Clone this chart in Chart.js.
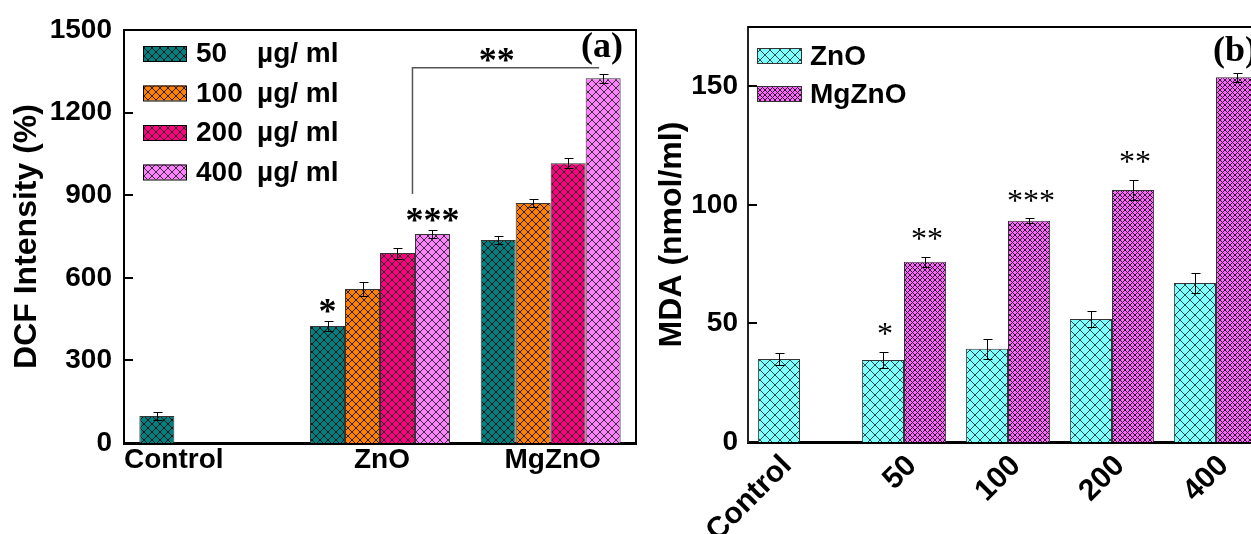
<!DOCTYPE html>
<html>
<head>
<meta charset="utf-8">
<script src="https://cdn.jsdelivr.net/npm/chart.js@4.4.1/dist/chart.umd.min.js"></script>
<style>
  html, body { margin: 0; padding: 0; background: #fff; overflow: hidden; }
  #wrap { position: relative; width: 1251px; height: 534px; overflow: hidden; background: #fff; }
  #dcf { position: absolute; left: 0; top: 0; width: 640px; height: 534px; }
  #mda { position: absolute; left: 640px; top: 0; width: 660px; height: 534px; }
</style>
</head>
<body>
<div id="wrap">
  <canvas id="dcf" width="640" height="534"></canvas>
  <canvas id="mda" width="660" height="534"></canvas>
</div>
<script>
const SANS = "'Liberation Sans', Arial, sans-serif";
const SERIF = "'Liberation Serif', 'Times New Roman', serif";

// ---- panel (a): DCF intensity ----
const dcfCategories = ['Control', 'ZnO', 'MgZnO'];
const dcfDoses = ['50', '100', '200', '400'];
const doseUnit = 'µg/ ml';
const dcf50 = [98, 425, 737];
const dcf100 = [null, 559, 872];
const dcf200 = [null, 690, 1016];
const dcf400 = [null, 759, 1325];
const dcf50Err = [14, 18, 15];
const dcf100Err = [null, 25, 16];
const dcf200Err = [null, 20, 18];
const dcf400Err = [null, 15, 16];
const dcfTicks = [0, 300, 600, 900, 1200, 1500];
// [dataset, category, mark]
const dcfMarks = [[0, 1, '*'], [3, 1, '***']];
const dcfBracketMark = '**';

// ---- panel (b): MDA ----
const mdaCategories = ['Control', '50', '100', '200', '400'];
const mdaSeries = ['ZnO', 'MgZnO'];
const mdaZnO = [35, 34.6, 39.3, 51.9, 67.1];
const mdaMgZnO = [null, 76, 93.3, 106.3, 153.8];
const mdaZnOErr = [2.6, 3.5, 4.2, 3.4, 4.2];
const mdaMgZnOErr = [null, 2, 1, 4.3, 2];
const mdaTicks = [0, 50, 100, 150];
const mdaMarks = [[0, 1, '*'], [1, 1, '**'], [1, 2, '***'], [1, 3, '**']];

function hatch(base, line, size, width) {
  const c = document.createElement('canvas');
  c.width = size; c.height = size;
  const g = c.getContext('2d');
  g.fillStyle = base;
  g.fillRect(0, 0, size, size);
  g.strokeStyle = line;
  g.lineWidth = width;
  g.beginPath();
  g.moveTo(0, 0); g.lineTo(size, size);
  g.moveTo(size, 0); g.lineTo(0, size);
  g.stroke();
  return g.createPattern(c, 'repeat');
}

const dcfFills = [
  hatch('#008080', '#111', 8, 1),
  hatch('#ff8000', '#222', 8, 1),
  hatch('#ff0080', '#222', 8, 1),
  hatch('#ff80ff', '#333', 8, 1)
];
const mdaFills = [
  hatch('#80ffff', '#2a4d4d', 10, 1),
  hatch('#ff66ff', '#2a1a2a', 5, 1)
];

function errTop(chart, errs, di, i) {
  const v = chart.data.datasets[di].data[i];
  return chart.scales.y.getPixelForValue(v + (errs[di][i] || 0));
}

function errorBars(errs) {
  return {
    id: 'errorBars',
    afterDatasetsDraw(chart) {
      const ctx = chart.ctx, y = chart.scales.y;
      ctx.save();
      ctx.strokeStyle = '#000';
      ctx.lineWidth = 1;
      chart.data.datasets.forEach((ds, di) => {
        const meta = chart.getDatasetMeta(di);
        ds.data.forEach((v, i) => {
          const e = errs[di][i];
          if (v == null || e == null) return;
          const x = Math.round(meta.data[i].x) + 0.5;
          const t = Math.round(y.getPixelForValue(v + e)) + 0.5;
          const b = Math.round(y.getPixelForValue(v - e)) + 0.5;
          ctx.beginPath();
          ctx.moveTo(x, t); ctx.lineTo(x, b);
          ctx.moveTo(x - 4, t); ctx.lineTo(x + 5, t);
          ctx.moveTo(x - 4, b); ctx.lineTo(x + 5, b);
          ctx.stroke();
        });
      });
      ctx.restore();
    }
  };
}

function frameAndTicks(ctx, area, y, ticks, rightBorder) {
  ctx.save();
  ctx.strokeStyle = '#000';
  ctx.lineWidth = 2;
  ctx.beginPath();
  ctx.moveTo(area.left, area.top);
  ctx.lineTo(area.right, area.top);
  if (rightBorder) ctx.lineTo(area.right, area.bottom);
  ticks.forEach(t => {
    if (t === 0) return;
    const py = Math.round(y.getPixelForValue(t));
    ctx.moveTo(area.left, py);
    ctx.lineTo(area.left + 9, py);
  });
  ctx.stroke();
  ctx.restore();
}

function starText(ctx, text, x, cy, font, size) {
  ctx.font = font;
  ctx.textAlign = 'center';
  ctx.textBaseline = 'alphabetic';
  ctx.fillText(text, x, cy + size * 0.48);
}

Chart.defaults.font.family = SANS;
Chart.defaults.color = '#000';

// ---------- chart (a) ----------
const dcfErrs = [dcf50Err, dcf100Err, dcf200Err, dcf400Err];
const dcfDecor = {
  id: 'dcfDecor',
  afterDraw(chart) {
    const ctx = chart.ctx, area = chart.chartArea, x = chart.scales.x, y = chart.scales.y;
    frameAndTicks(ctx, area, y, dcfTicks, true);
    ctx.save();
    ctx.fillStyle = '#000';

    // category labels
    ctx.font = 'bold 28px ' + SANS;
    ctx.textBaseline = 'alphabetic';
    dcfCategories.forEach((c, i) => {
      if (dcf100[i] == null) {
        ctx.textAlign = 'left';
        ctx.fillText(c, area.left, area.bottom + 25);
      } else {
        ctx.textAlign = 'center';
        ctx.fillText(c, x.getPixelForValue(i) + 2, area.bottom + 25);
      }
    });

    // legend
    dcfDoses.forEach((d, i) => {
      const by = 46 + i * 39.5;
      ctx.fillStyle = dcfFills[i];
      ctx.fillRect(143, by, 43, 15);
      ctx.strokeStyle = '#000';
      ctx.lineWidth = 1;
      ctx.strokeRect(143.5, by + 0.5, 43, 15);
      ctx.fillStyle = '#000';
      ctx.font = 'bold 28px ' + SANS;
      ctx.textAlign = 'left';
      ctx.fillText(d, 196, by + 16);
      ctx.fillText(doseUnit, 257, by + 16);
    });

    // significance marks
    dcfMarks.forEach(([di, i, m]) => {
      const bx = chart.getDatasetMeta(di).data[i].x;
      starText(ctx, m, bx, errTop(chart, dcfErrs, di, i) - 15, 'bold 36px ' + SERIF, 36);
    });

    // bracket ZnO 400 -> MgZnO 400
    const x1 = chart.getDatasetMeta(3).data[1].x - 20;
    const x2 = chart.getDatasetMeta(3).data[2].x - 4;
    const yLow = errTop(chart, dcfErrs, 3, 1) - 36;
    const yTop = errTop(chart, dcfErrs, 3, 2) - 6;
    ctx.strokeStyle = '#555';
    ctx.lineWidth = 1.5;
    ctx.beginPath();
    ctx.moveTo(x1, yLow);
    ctx.lineTo(x1, yTop);
    ctx.lineTo(x2, yTop);
    ctx.stroke();
    starText(ctx, dcfBracketMark, (x1 + x2) / 2 - 9, yTop - 13, 'bold 36px ' + SERIF, 36);

    // panel letter
    ctx.font = 'bold 36px ' + SERIF;
    ctx.textAlign = 'center';
    ctx.textBaseline = 'middle';
    ctx.fillText('(a)', 602, 48);
    ctx.restore();
  }
};

new Chart(document.getElementById('dcf'), {
  type: 'bar',
  data: {
    labels: dcfCategories,
    datasets: [dcf50, dcf100, dcf200, dcf400].map((d, i) => ({
      label: dcfDoses[i] + ' ' + doseUnit,
      data: d,
      backgroundColor: dcfFills[i],
      borderColor: '#333',
      borderWidth: 1,
      categoryPercentage: 0.82,
      barPercentage: 1
    }))
  },
  options: {
    responsive: false,
    animation: false,
    events: [],
    layout: { padding: { left: 0, top: 30, right: 4, bottom: 0 } },
    plugins: { legend: { display: false }, tooltip: { enabled: false } },
    scales: {
      x: {
        grid: { display: false },
        ticks: { display: false },
        border: { display: true, color: '#000', width: 3 },
        afterFit(s) { s.height = 91; }
      },
      y: {
        min: 0, max: 1500,
        afterBuildTicks(s) { s.ticks = dcfTicks.map(v => ({ value: v })); },
        grid: { display: false, drawTicks: false },
        border: { display: true, color: '#000', width: 2 },
        ticks: { padding: 12, font: { size: 28, weight: 'bold' }, color: '#000', callback: v => String(v) },
        title: { display: true, text: 'DCF Intensity (%)', font: { size: 32, weight: 'bold' }, color: '#000', padding: { top: 8 } },
        afterFit(s) { s.width = 124; }
      }
    }
  },
  plugins: [errorBars(dcfErrs), dcfDecor]
});

// ---------- chart (b) ----------
const mdaErrs = [mdaZnOErr, mdaMgZnOErr];
const mdaDecor = {
  id: 'mdaDecor',
  afterDraw(chart) {
    const ctx = chart.ctx, area = chart.chartArea, x = chart.scales.x, y = chart.scales.y;
    frameAndTicks(ctx, area, y, mdaTicks, true);
    ctx.save();
    ctx.fillStyle = '#000';

    // rotated category labels
    ctx.font = 'bold 30px ' + SANS;
    ctx.textAlign = 'right';
    ctx.textBaseline = 'middle';
    mdaCategories.forEach((c, i) => {
      const cx = mdaMgZnO[i] == null ? chart.getDatasetMeta(0).data[i].x : x.getPixelForValue(i);
      ctx.save();
      ctx.translate(cx + 8, area.bottom + 19);
      ctx.rotate(-Math.PI / 4);
      ctx.fillText(c, 0, 0);
      ctx.restore();
    });

    // legend
    mdaSeries.forEach((s, i) => {
      const by = 48 + i * 38;
      ctx.fillStyle = mdaFills[i];
      ctx.fillRect(117, by, 44, 15);
      ctx.strokeStyle = '#333';
      ctx.lineWidth = 1;
      ctx.strokeRect(117.5, by + 0.5, 44, 15);
      ctx.fillStyle = '#000';
      ctx.font = 'bold 28px ' + SANS;
      ctx.textAlign = 'left';
      ctx.textBaseline = 'alphabetic';
      ctx.fillText(s, 170, by + 17);
    });

    // significance marks
    mdaMarks.forEach(([di, i, m]) => {
      const bx = chart.getDatasetMeta(di).data[i].x;
      starText(ctx, m, bx + 2, errTop(chart, mdaErrs, di, i) - 23, '32px ' + SERIF, 32);
    });

    // panel letter
    ctx.font = 'bold 36px ' + SERIF;
    ctx.textAlign = 'left';
    ctx.textBaseline = 'middle';
    ctx.fillText('(b)', 573, 52);
    ctx.restore();
  }
};

new Chart(document.getElementById('mda'), {
  type: 'bar',
  data: {
    labels: mdaCategories,
    datasets: [mdaZnO, mdaMgZnO].map((d, i) => ({
      label: mdaSeries[i],
      data: d,
      backgroundColor: mdaFills[i],
      borderColor: '#333',
      borderWidth: 1,
      categoryPercentage: 0.81,
      barPercentage: 1
    }))
  },
  options: {
    responsive: false,
    animation: false,
    events: [],
    layout: { padding: { left: 0, top: 27, right: 32, bottom: 0 } },
    plugins: { legend: { display: false }, tooltip: { enabled: false } },
    scales: {
      x: {
        grid: { display: false },
        ticks: { display: false },
        border: { display: true, color: '#000', width: 3 },
        afterFit(s) { s.height = 92; }
      },
      y: {
        min: 0, max: 175,
        afterBuildTicks(s) { s.ticks = mdaTicks.map(v => ({ value: v })); },
        grid: { display: false, drawTicks: false },
        border: { display: true, color: '#222', width: 2 },
        ticks: { padding: 10, font: { size: 28, weight: 'bold' }, color: '#000', callback: v => String(v) },
        title: { display: true, text: 'MDA (nmol/ml)', font: { size: 32, weight: 'bold' }, color: '#000', padding: { top: 13 } },
        afterFit(s) { s.width = 108; }
      }
    }
  },
  plugins: [errorBars(mdaErrs), mdaDecor]
});
</script>
</body>
</html>
